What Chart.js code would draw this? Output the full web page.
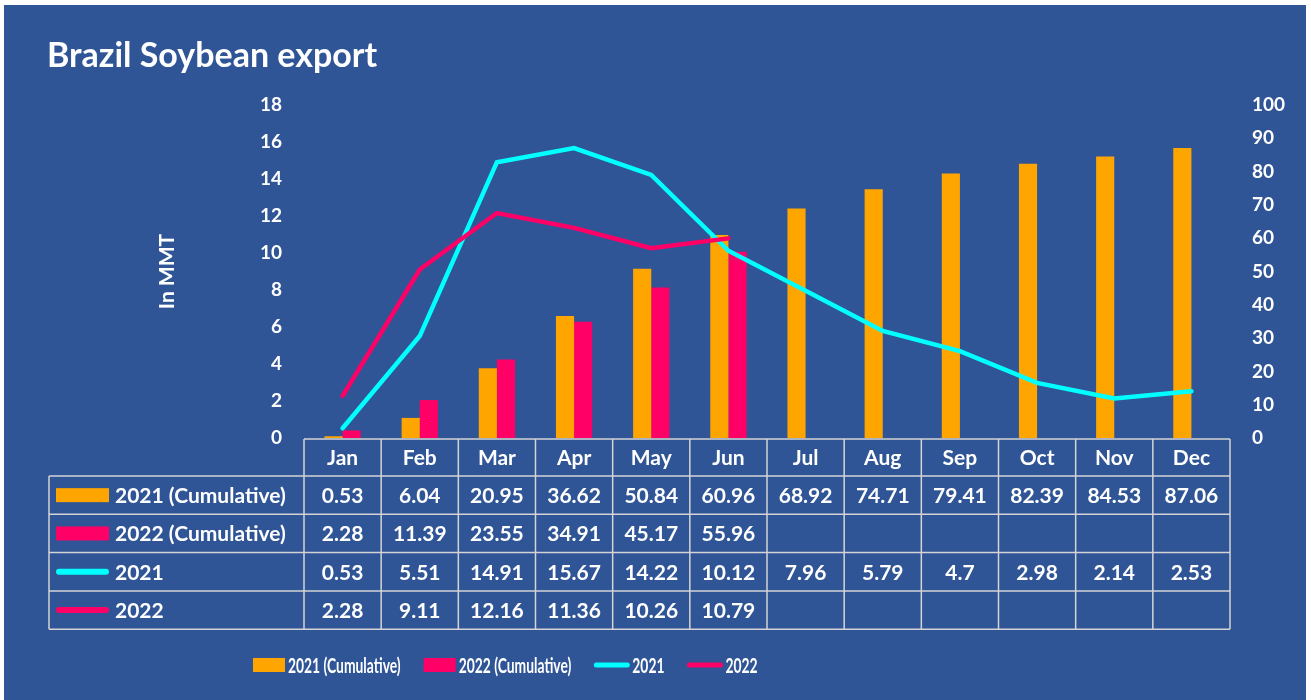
<!DOCTYPE html>
<html>
<head>
<meta charset="utf-8">
<script src="https://cdn.jsdelivr.net/npm/chart.js@4.4.1/dist/chart.umd.min.js"></script>
<style>
  html, body { margin: 0; padding: 0; background: #fff; overflow: hidden; }
</style>
</head>
<body>
<canvas id="chart" width="1311" height="700"></canvas>
<script>
// Datos (MMT)
const months = ['Jan', 'Feb', 'Mar', 'Apr', 'May', 'Jun', 'Jul', 'Aug', 'Sep', 'Oct', 'Nov', 'Dec'];
const cum2021 = [0.53, 6.04, 20.95, 36.62, 50.84, 60.96, 68.92, 74.71, 79.41, 82.39, 84.53, 87.06];
const cum2022 = [2.28, 11.39, 23.55, 34.91, 45.17, 55.96, null, null, null, null, null, null];
const mon2021 = [0.53, 5.51, 14.91, 15.67, 14.22, 10.12, 7.96, 5.79, 4.7, 2.98, 2.14, 2.53];
const mon2022 = [2.28, 9.11, 12.16, 11.36, 10.26, 10.79, null, null, null, null, null, null];

const FONT = 'Lato, "Open Sans", sans-serif';
const BG = '#2F5597';
const ORANGE = '#FFA500';
const PINK = '#FF0066';
const CYAN = '#00FFFF';
const GRID = '#D4D4D4';

// Filas de la tabla (en el mismo orden que la imagen)
const tableRows = [
    { label: '2021 (Cumulative)', data: cum2021, color: ORANGE, kind: 'bar' },
    { label: '2022 (Cumulative)', data: cum2022, color: PINK, kind: 'bar' },
    { label: '2021', data: mon2021, color: CYAN, kind: 'line' },
    { label: '2022', data: mon2022, color: PINK, kind: 'line' }
];

function drawMarker(ctx, row, x, yMid, w) {
    if (row.kind === 'bar') {
        ctx.fillStyle = row.color;
        ctx.fillRect(x, yMid - 7, w, 14);
    } else {
        ctx.strokeStyle = row.color;
        ctx.lineWidth = 6;
        ctx.lineCap = 'round';
        ctx.beginPath();
        ctx.moveTo(x + 3, yMid);
        ctx.lineTo(x + w - 3, yMid);
        ctx.stroke();
    }
}

const decorPlugin = {
    id: 'decor',
    beforeDraw(chart) {
        const ctx = chart.ctx;
        ctx.save();
        ctx.fillStyle = '#fff';
        ctx.fillRect(0, 0, chart.width, chart.height);
        ctx.fillStyle = BG;
        ctx.fillRect(4, 5, 1302, 695);
        // Título
        ctx.fillStyle = '#fff';
        ctx.font = 'bold 34px ' + FONT;
        ctx.textBaseline = 'alphabetic';
        ctx.textAlign = 'left';
        ctx.fillText('Brazil Soybean export', 47, 67);
        ctx.restore();
    },
    afterDraw(chart) {
        const ctx = chart.ctx;
        const xs = chart.scales.x;
        const area = chart.chartArea;
        const colW = (xs.right - xs.left) / months.length;
        const labelL = 49;
        const top = area.bottom + 1;
        const headH = 37;
        const rowH = 38.3;
        const bottom = top + headH + rowH * tableRows.length;

        ctx.save();
        // Rejilla de la tabla
        ctx.strokeStyle = GRID;
        ctx.lineWidth = 1.5;
        ctx.beginPath();
        ctx.moveTo(xs.left, top); ctx.lineTo(xs.right, top);
        for (let r = 0; r <= tableRows.length; r++) {
            const y = top + headH + r * rowH;
            ctx.moveTo(labelL, y); ctx.lineTo(xs.right, y);
        }
        for (let i = 0; i <= months.length; i++) {
            const x = xs.left + i * colW;
            ctx.moveTo(x, top); ctx.lineTo(x, bottom);
        }
        ctx.moveTo(labelL, top + headH); ctx.lineTo(labelL, bottom);
        ctx.stroke();

        // Cabecera de meses
        ctx.fillStyle = '#fff';
        ctx.font = 'bold 21px ' + FONT;
        ctx.textAlign = 'center';
        ctx.textBaseline = 'middle';
        months.forEach((m, i) => {
            ctx.fillText(m, xs.getPixelForValue(i), top + headH / 2 + 1);
        });

        // Filas
        tableRows.forEach((row, r) => {
            const yMid = top + headH + r * rowH + rowH / 2;
            drawMarker(ctx, row, 56, yMid, 53);
            ctx.fillStyle = '#fff';
            ctx.textAlign = 'left';
            ctx.fillText(row.label, 115, yMid + 1);
            ctx.textAlign = 'center';
            row.data.forEach((v, i) => {
                if (v === null) return;
                ctx.fillText(String(v), xs.getPixelForValue(i), yMid + 1);
            });
        });

        // Leyenda inferior (texto comprimido como en la imagen)
        let lx = 253;
        const ly = 665;
        ctx.textAlign = 'left';
        ctx.font = 'bold 21px ' + FONT;
        tableRows.forEach(row => {
            const mw = row.kind === 'bar' ? 32 : 35;
            if (row.kind === 'bar') {
                ctx.fillStyle = row.color;
                ctx.fillRect(lx, ly - 7, mw, 14);
            } else {
                ctx.strokeStyle = row.color;
                ctx.lineWidth = 5;
                ctx.lineCap = 'round';
                ctx.beginPath();
                ctx.moveTo(lx + 2, ly);
                ctx.lineTo(lx + mw - 2, ly);
                ctx.stroke();
            }
            lx += mw + 3;
            ctx.fillStyle = '#fff';
            const tw = ctx.measureText(row.label).width * 0.66;
            ctx.fillText(row.label, lx, ly + 1, tw);
            lx += tw + 23;
        });
        ctx.restore();
    }
};

const tickFont = { family: FONT, weight: 'bold', size: 19 };

new Chart(document.getElementById('chart'), {
    type: 'bar',
    data: {
        labels: months,
        datasets: [
            {
                type: 'line', label: '2022', data: mon2022, yAxisID: 'y',
                borderColor: PINK, borderWidth: 4.5, pointRadius: 0, tension: 0,
                borderCapStyle: 'round', order: 0
            },
            {
                type: 'line', label: '2021', data: mon2021, yAxisID: 'y',
                borderColor: CYAN, borderWidth: 4.5, pointRadius: 0, tension: 0,
                borderCapStyle: 'round', order: 1
            },
            {
                label: '2021 (Cumulative)', data: cum2021, yAxisID: 'y1',
                backgroundColor: ORANGE, categoryPercentage: 0.47, barPercentage: 1, order: 2
            },
            {
                label: '2022 (Cumulative)', data: cum2022, yAxisID: 'y1',
                backgroundColor: PINK, categoryPercentage: 0.47, barPercentage: 1, order: 3
            }
        ]
    },
    options: {
        responsive: false,
        animation: false,
        layout: { padding: { top: 105, bottom: 262, left: 0, right: 0 } },
        plugins: { legend: { display: false }, tooltip: { enabled: false } },
        scales: {
            x: { display: false, offset: true },
            y: {
                position: 'left', min: 0, max: 18,
                ticks: { stepSize: 2, color: '#fff', font: tickFont, padding: 14 },
                grid: { display: false }, border: { display: false },
                title: {
                    display: true, text: 'In MMT', color: '#fff',
                    font: { family: FONT, weight: 'bold', size: 21 },
                    padding: { top: 155, bottom: 0 }
                },
                afterFit(s) { s.width = 304; }
            },
            y1: {
                position: 'right', min: 0, max: 100,
                ticks: { stepSize: 10, color: '#fff', font: tickFont, padding: 14 },
                grid: { display: false }, border: { display: false },
                afterFit(s) { s.width = 81; }
            }
        }
    },
    plugins: [decorPlugin]
});
</script>
</body>
</html>
